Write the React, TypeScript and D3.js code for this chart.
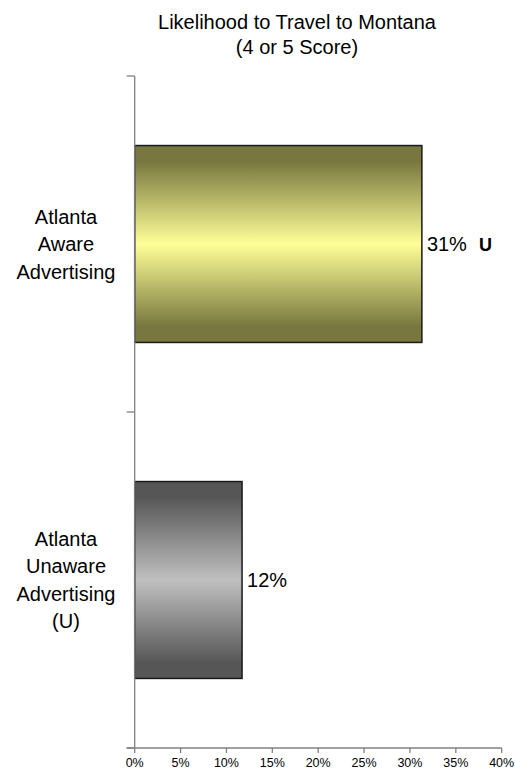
import React from "react";
import * as d3 from "d3";

const categories = [
  ["Atlanta", "Aware", "Advertising"],
  ["Atlanta", "Unaware", "Advertising", "(U)"],
];
const values = [31.3, 11.7];
const valueLabels = ["31%", "12%"];
const sigMarks = ["U", ""];
const xTicks = [0, 5, 10, 15, 20, 25, 30, 35, 40];
const titleLines = ["Likelihood to Travel to Montana", "(4 or 5 Score)"];

const W = 515;
const H = 774;
const left = 134.7;
const right = 501.7;
const top = 76;
const bottom = 748;

export default function App() {
  const x = d3.scaleLinear().domain([0, 40]).range([left, right]);
  const y = d3
    .scaleBand<number>()
    .domain(categories.map((_, i) => i))
    .range([top, bottom])
    .paddingInner(0.414)
    .paddingOuter(0.207);
  const gradients = [
    { id: "gY", edge: "#77773f", mid: "#ffff99" },
    { id: "gG", edge: "#565656", mid: "#c0c0c0" },
  ];
  const font = "Arial, 'Liberation Sans', sans-serif";
  const bandEdges = [top, top + (bottom - top) / 2, bottom];
  return (
    <svg
      width={W}
      height={H}
      style={{ position: "absolute", left: 0, top: 0 }}
      fontFamily={font}
    >
      <defs>
        {gradients.map((g) => (
          <linearGradient key={g.id} id={g.id} x1="0" y1="0" x2="0" y2="1">
            <stop offset="0" stopColor={g.edge} />
            <stop offset="0.08" stopColor={g.edge} />
            <stop offset="0.5" stopColor={g.mid} />
            <stop offset="0.92" stopColor={g.edge} />
            <stop offset="1" stopColor={g.edge} />
          </linearGradient>
        ))}
      </defs>
      <rect width={W} height={H} fill="#fff" />
      {titleLines.map((t, i) => (
        <text
          key={i}
          x={297}
          y={29 + i * 25}
          textAnchor="middle"
          fontSize={20}
          fill="#000"
        >
          {t}
        </text>
      ))}
      {values.map((v, i) => {
        const y0 = y(i)!;
        const bw = y.bandwidth();
        return (
          <g key={i}>
            <rect
              x={x(0)}
              y={y0}
              width={x(v) - x(0)}
              height={bw}
              fill={`url(#${gradients[i].id})`}
              stroke="#1a1a1a"
              strokeWidth={1.5}
            />
            <text
              x={x(v) + 5}
              y={y0 + bw / 2 + 7}
              fontSize={20}
              fill="#000"
            >
              {valueLabels[i]}
              {sigMarks[i] && (
                <tspan dx={12} fontWeight="bold" fontSize={18}>
                  {sigMarks[i]}
                </tspan>
              )}
            </text>
          </g>
        );
      })}
      {categories.map((lines, i) => {
        const cy = y(i)! + y.bandwidth() / 2;
        const lh = 27.5;
        const start = cy - ((lines.length - 1) * lh) / 2;
        return (
          <text key={i} textAnchor="middle" fontSize={20} fill="#000">
            {lines.map((l, j) => (
              <tspan key={j} x={66} y={start + j * lh + 7}>
                {l}
              </tspan>
            ))}
          </text>
        );
      })}
      <line x1={left} x2={left} y1={top} y2={bottom} stroke="#808080" strokeWidth={1.3} />
      {bandEdges.map((b, i) => (
        <line key={i} x1={left - 8} x2={left} y1={b} y2={b} stroke="#808080" strokeWidth={1.3} />
      ))}
      <line x1={left - 8} x2={right} y1={bottom} y2={bottom} stroke="#808080" strokeWidth={1.3} />
      {xTicks.map((t) => (
        <g key={t}>
          <line x1={x(t)} x2={x(t)} y1={bottom} y2={bottom + 5} stroke="#808080" strokeWidth={1.3} />
          <text x={x(t)} y={bottom + 19} textAnchor="middle" fontSize={12.5} fill="#000">
            {t}%
          </text>
        </g>
      ))}
    </svg>
  );
}
